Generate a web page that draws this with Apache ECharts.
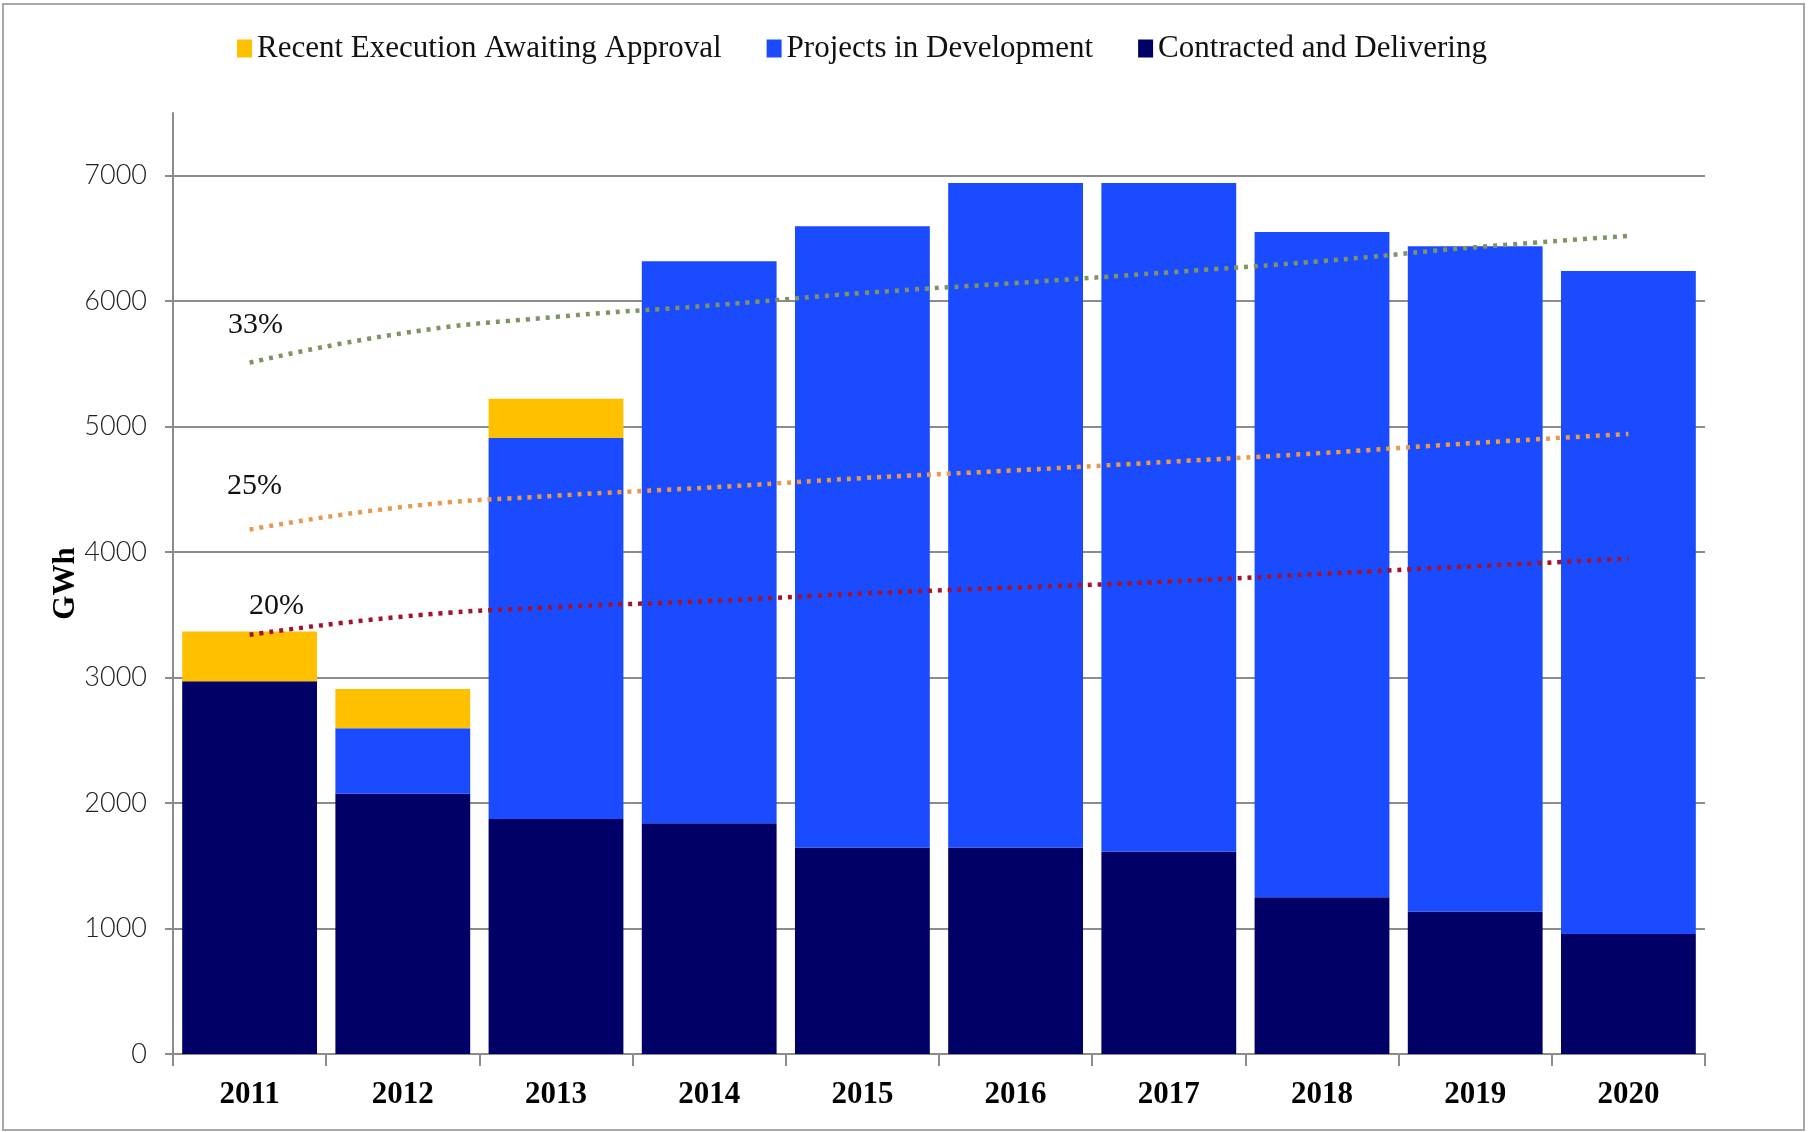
<!DOCTYPE html>
<html>
<head>
<meta charset="utf-8">
<script src="https://cdn.jsdelivr.net/npm/echarts@6/dist/echarts.min.js"></script>
<style>
html,body{margin:0;padding:0;background:#fff;}
#c{width:1810px;height:1132px;position:absolute;left:0;top:0;}
#frame{position:absolute;left:2px;top:3px;width:1803px;height:1128px;border:2px solid #a8a8a8;box-sizing:border-box;pointer-events:none;}
</style>
</head>
<body>
<div id="c"></div>
<div id="frame"></div>
<script>
// ---- data ----
const categories = ['2011','2012','2013','2014','2015','2016','2017','2018','2019','2020'];
const contracted = [2970, 2075, 1874, 1840, 1645, 1645, 1613, 1250, 1135, 957];
const projects   = [0, 522, 3036, 4478, 4952, 5298, 5330, 5302, 5303, 5284];
const recent     = [398, 312, 313, 0, 0, 0, 0, 0, 0, 0];
const target33   = [5510, 5745, 5875, 5965, 6065, 6145, 6230, 6320, 6430, 6520];
const target25   = [4180, 4360, 4450, 4515, 4590, 4652, 4720, 4790, 4870, 4942];
const target20   = [3341, 3486, 3562, 3610, 3670, 3718, 3765, 3828, 3888, 3948];
const yTicks     = [0, 1000, 2000, 3000, 4000, 5000, 6000, 7000];
const legendNames = ['Recent Execution Awaiting Approval', 'Projects in Development', 'Contracted and Delivering'];
const targetNames = ['33%', '25%', '20%'];

const serif = '"Liberation Serif", "Times New Roman", serif';

function withStartLabel(arr, text, offset) {
  return arr.map((v, i) => i === 0 ? {
    value: v,
    label: {
      show: true, formatter: text, position: 'top', distance: 5, offset: offset,
      fontFamily: serif, fontSize: 30, color: '#111'
    }
  } : v);
}

function trend(name, data, color, offset) {
  return {
    name: name, type: 'line', smooth: true,
    symbol: 'circle', symbolSize: 0.1, showSymbol: true, z: 5,
    data: withStartLabel(data, name, offset),
    label: { show: false },
    lineStyle: { color: color, width: 4.5, type: [4, 6] },
    itemStyle: { color: color },
    emphasis: { disabled: true },
    silent: true
  };
}

const chart = echarts.init(document.getElementById('c'), null, { renderer: 'canvas' });
chart.setOption({
  animation: false,
  backgroundColor: '#ffffff',
  legend: {
    data: legendNames,
    left: 232, top: 28,
    icon: 'rect', itemWidth: 15, itemHeight: 18, itemGap: 45,
    textStyle: { fontFamily: serif, fontSize: 31, color: '#111' },
    selectedMode: false
  },
  grid: { left: 173, right: 105, top: 113, bottom: 78, outerBoundsMode: 'none', containLabel: false },
  xAxis: {
    type: 'category', data: categories, boundaryGap: true,
    axisLine: { lineStyle: { color: '#8c8c8c', width: 2 } },
    axisTick: { show: true, length: 12, alignWithLabel: false, lineStyle: { color: '#8c8c8c', width: 2 } },
    axisLabel: { margin: 25, fontFamily: serif, fontWeight: 'bold', fontSize: 31, color: '#000' },
    splitLine: { show: false }
  },
  yAxis: {
    type: 'value', min: 0, max: 7500, interval: 1000,
    name: 'GWh', nameLocation: 'middle', nameGap: 92, nameRotate: 90, nameMoveOverlap: false,
    nameTextStyle: { fontFamily: serif, fontWeight: 'bold', fontSize: 31, color: '#000' },
    axisLine: { show: true, lineStyle: { color: '#8c8c8c', width: 2 } },
    axisTick: { show: true, length: 8, customValues: yTicks, lineStyle: { color: '#8c8c8c', width: 2 } },
    axisLabel: {
      margin: 26, customValues: yTicks,
      formatter: function (v) { return String(v); },
      fontFamily: 'Lato, "DejaVu Sans", sans-serif', fontWeight: 300, fontSize: 27, color: '#222'
    },
    splitLine: { show: true, lineStyle: { color: '#8c8c8c', width: 2 } }
  },
  series: [
    { name: legendNames[2], type: 'bar', stack: 'total', data: contracted, barCategoryGap: '12%', itemStyle: { color: '#000066' } },
    { name: legendNames[1], type: 'bar', stack: 'total', data: projects, itemStyle: { color: '#1a4bff' } },
    { name: legendNames[0], type: 'bar', stack: 'total', data: recent, itemStyle: { color: '#ffc000' } },
    trend(targetNames[0], target33, '#7f9462', [6, -18]),
    trend(targetNames[1], target25, '#e9994e', [5, -23]),
    trend(targetNames[2], target20, '#a3122f', [27, -9])
  ]
});
</script>
</body>
</html>
